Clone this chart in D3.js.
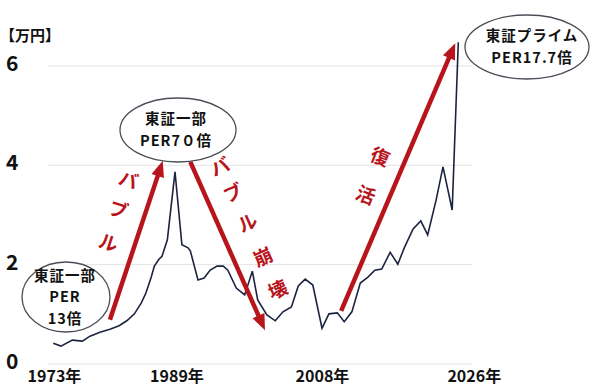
<!DOCTYPE html>
<html>
<head>
<meta charset="utf-8">
<script src="https://cdn.jsdelivr.net/npm/d3@7"></script>
<style>
  body { margin: 0; background: #fff; }
  svg { display: block; font-family: "Noto Sans CJK JP", "Noto Sans", sans-serif; }
</style>
</head>
<body>
<svg id="chart" width="600" height="386"></svg>
<script>
// Nikkei average (万円)
const years = [1973.1, 1974.1, 1975.6, 1976.9, 1977.9, 1979.2, 1980.5, 1981.7, 1982.7, 1983.7,
  1984.6, 1985.2, 1985.9, 1986.3, 1986.9, 1987.3, 1988.0, 1989.0, 1989.9, 1990.7,
  1991.0, 1992.0, 1992.8, 1993.6, 1994.5, 1995.3, 1995.9, 1997.0, 1998.1, 1999.1,
  1999.8, 2001.0, 2002.1, 2003.1, 2004.2, 2005.1, 2006.0, 2007.0, 2008.2, 2009.1,
  2010.2, 2011.1, 2012.1, 2013.2, 2014.2, 2015.1, 2016.0, 2017.1, 2018.1, 2019.0,
  2020.1, 2021.1, 2022.0, 2023.1, 2024.0, 2025.2, 2026.0];
const values = [0.42, 0.36, 0.48, 0.46, 0.56, 0.64, 0.70, 0.77, 0.87, 1.01,
  1.23, 1.43, 1.75, 1.97, 2.11, 2.17, 2.50, 3.87, 2.40, 2.34,
  2.28, 1.69, 1.73, 1.89, 1.97, 1.97, 1.89, 1.53, 1.39, 1.87,
  1.29, 0.99, 0.87, 1.05, 1.15, 1.57, 1.71, 1.59, 0.72, 1.01,
  1.03, 0.85, 1.05, 1.63, 1.75, 1.89, 1.91, 2.25, 2.01, 2.36,
  2.72, 2.88, 2.60, 3.30, 3.97, 3.10, 6.48];

const xTicks = [1973, 1989, 2008, 2026];
const xTickLabels = ["1973年", "1989年", "2008年", "2026年"];
const yTicks = [0, 2, 4, 6];
const yUnit = "【万円】";

// arrows: [startYear, startValue, endYear, endValue]
const arrows = [
  [1980.5, 0.89, 1987.4, 4.09],
  [1991.0, 4.07, 2000.75, 0.68],
  [2010.7, 1.07, 2025.6, 6.46]
];
const arrowTexts = [
  { chars: ["バ", "ブ", "ル"], at: [[1982.9, 3.70], [1981.6, 3.10], [1980.3, 2.44]], rot: 18 },
  { chars: ["バ", "ブ", "ル", "崩", "壊"], at: [[1994.9, 3.97], [1996.6, 3.44], [1998.5, 2.84], [2000.5, 2.15], [2002.45, 1.49]], rot: -24 },
  { chars: ["復", "活"], at: [[2015.8, 4.17], [2013.9, 3.40]], rot: 22 }
];
const bubbles = [
  { lines: ["東証一部", "PER", "13倍"], rx: 44, ry: 35, cx: 66, cy: 297, tx: 65 },
  { lines: ["東証一部", "PER7０倍"], rx: 58, ry: 32, cx: 178, cy: 130, tx: 176 },
  { lines: ["東証プライム", "PER17.7倍"], rx: 62, ry: 32, cx: 527, cy: 47, tx: 532 }
];

const data = years.map((y, i) => ({ year: y, value: values[i] }));

const svg = d3.select("#chart");
const red = "#b8141c";

const x = d3.scaleLinear().domain([1973, 2026]).range([52.5, 458.3]);
const y = d3.scaleLinear().domain([0, 6]).range([364, 66]);

// gridlines
svg.append("g")
  .selectAll("line")
  .data(yTicks)
  .join("line")
  .attr("x1", 48)
  .attr("x2", 472)
  .attr("y1", d => y(d))
  .attr("y2", d => y(d))
  .attr("stroke", "#e2e2e2")
  .attr("stroke-width", 1);

// y labels
svg.append("g")
  .selectAll("text")
  .data(yTicks)
  .join("text")
  .attr("x", 6)
  .attr("y", d => y(d) + 5)
  .attr("font-size", 21)
  .attr("font-weight", "bold")
  .attr("fill", "#111")
  .text(d => d);

svg.append("text")
  .attr("x", 0)
  .attr("y", 41)
  .attr("font-size", 15)
  .attr("font-weight", "bold")
  .attr("fill", "#111")
  .text(yUnit);

// x labels
svg.append("g")
  .selectAll("text")
  .data(xTicks)
  .join("text")
  .attr("x", d => x(d))
  .attr("dx", (d, i) => i === xTicks.length - 1 ? 16 : 2)
  .attr("y", 382)
  .attr("text-anchor", "middle")
  .attr("font-size", 16)
  .attr("font-weight", "bold")
  .attr("fill", "#111")
  .text((d, i) => xTickLabels[i]);

// the line
svg.append("path")
  .datum(data)
  .attr("fill", "none")
  .attr("stroke", "#1c2340")
  .attr("stroke-width", 1.6)
  .attr("d", d3.line().x(d => x(d.year)).y(d => y(d.value)));

// red arrows
const arrowG = svg.append("g");
arrows.forEach(a => {
  const x1 = x(a[0]), y1 = y(a[1]), x2 = x(a[2]), y2 = y(a[3]);
  const len = Math.hypot(x2 - x1, y2 - y1);
  const ux = (x2 - x1) / len, uy = (y2 - y1) / len;
  const headLen = 16, headW = 6.5;
  const bx = x2 - ux * headLen, by = y2 - uy * headLen;
  arrowG.append("line")
    .attr("x1", x1).attr("y1", y1)
    .attr("x2", bx + ux * 2).attr("y2", by + uy * 2)
    .attr("stroke", red)
    .attr("stroke-width", 4.5);
  arrowG.append("path")
    .attr("d", `M${x2},${y2}L${bx - uy * headW},${by + ux * headW}L${bx + uy * headW},${by - ux * headW}Z`)
    .attr("fill", red);
});

// red text along arrows
arrowTexts.forEach(t => {
  t.chars.forEach((c, i) => {
    const px = x(t.at[i][0]), py = y(t.at[i][1]);
    svg.append("text")
      .attr("transform", `translate(${px},${py}) rotate(${t.rot})`)
      .attr("text-anchor", "middle")
      .attr("dy", "0.36em")
      .attr("font-size", 19)
      .attr("font-weight", "bold")
      .attr("fill", red)
      .text(c);
  });
});

// speech ellipses
bubbles.forEach(b => {
  const g = svg.append("g");
  g.append("ellipse")
    .attr("cx", b.cx).attr("cy", b.cy)
    .attr("rx", b.rx).attr("ry", b.ry)
    .attr("fill", "#fff")
    .attr("stroke", "#4a4f57")
    .attr("stroke-width", 1.3);
  const lh = 21.5;
  const top = b.cy - (b.lines.length - 1) * lh / 2;
  b.lines.forEach((l, i) => {
    g.append("text")
      .attr("x", b.tx)
      .attr("y", top + i * lh)
      .attr("dy", "0.36em")
      .attr("text-anchor", "middle")
      .attr("font-size", 14.5)
      .attr("letter-spacing", 1)
      .attr("font-weight", "bold")
      .attr("fill", "#111")
      .text(l);
  });
});
</script>
</body>
</html>
